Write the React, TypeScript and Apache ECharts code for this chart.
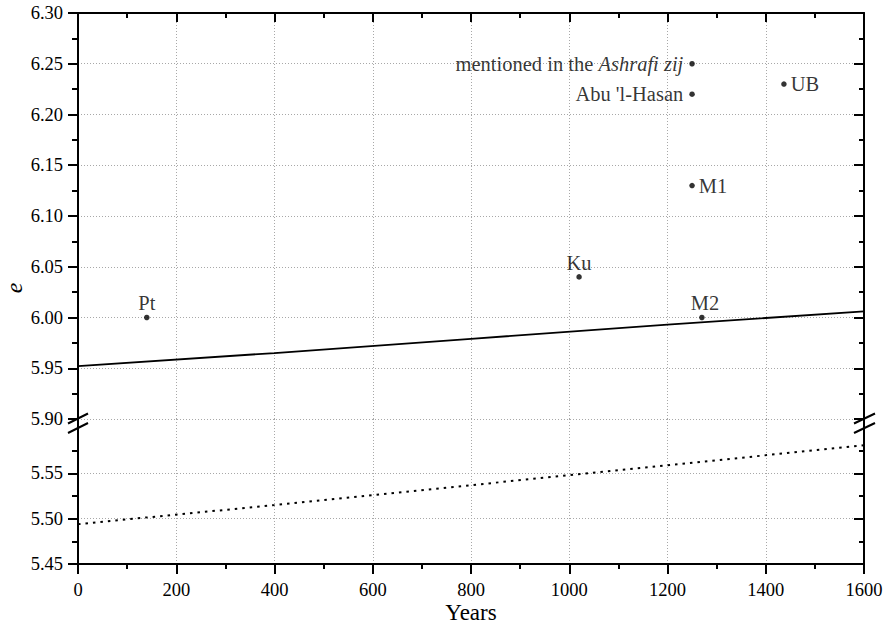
import React, { useEffect, useRef } from "react";
import * as echarts from "echarts";

// ---- data ----
const pointNames = ["Pt", "Ku", "M2", "M1", "Abu 'l-Hasan", "Ashrafi", "UB"];
const pointYears = [140, 1020, 1270, 1250, 1250, 1250, 1437];
const pointE = [6.0, 6.04, 6.0, 6.13, 6.22, 6.25, 6.23];

const curveYears = [0, 400, 800, 1200, 1600];
const solidE = [5.952, 5.965, 5.979, 5.993, 6.006];
const dottedE = [5.494, 5.515, 5.537, 5.559, 5.581];

const lowerMajorTicks = [5.45, 5.5, 5.55];
const lowerMinorTicks = [5.475, 5.525, 5.575];

const FONT = "Liberation Serif";

const labelStyles: Record<string, any> = {
  Pt: { position: "top", distance: 1 },
  Ku: { position: "top", distance: 1 },
  M2: { position: "top", distance: 1, offset: [3, 0] },
  M1: { position: "right", distance: 4 },
  "Abu 'l-Hasan": { position: "left", distance: 6 },
  Ashrafi: {
    position: "left",
    distance: 6,
    formatter: "{n|mentioned in the }{i|Ashrafi zij}",
  },
  UB: { position: "right", distance: 4 },
};

export default function App() {
  const ref = useRef<HTMLDivElement>(null);
  useEffect(() => {
    document.body.style.margin = "0";
    if (!ref.current) return;
    const chart = echarts.init(ref.current, null, { renderer: "svg" });
    const gridLine = { show: true, lineStyle: { color: "#a8a8a8", width: 1, type: [1, 2] } };
    const axisLine = { show: true, onZero: false, lineStyle: { color: "#000", width: 2 } };
    const tickLabel = {
      color: "#000",
      fontFamily: FONT,
      fontSize: 18.5,
    };
    const fmt = (v: number) => v.toFixed(2);
    const LS = 20.5;

    const scatterData = pointNames.map((n, i) => {
      const ls = labelStyles[n];
      return {
        name: n,
        value: [pointYears[i], pointE[i]],
        label: {
          show: true,
          position: ls.position,
          distance: ls.distance,
          offset: ls.offset,
          formatter: ls.formatter || n,
          color: "#000",
          fontFamily: FONT,
          fontSize: LS,
          rich: {
            n: { fontFamily: FONT, fontSize: LS, color: "#000" },
            i: { fontFamily: FONT, fontSize: LS, color: "#000", fontStyle: "italic" },
          },
        },
      };
    });

    const slash = (x1: number, y1: number, x2: number, y2: number) => ({
      type: "line",
      z: 100,
      shape: { x1, y1, x2, y2 },
      style: { stroke: "#000", lineWidth: 2 },
    });

    chart.setOption({
      animation: false,
      backgroundColor: "#fff",
      grid: [
        { left: 78, right: 22, top: 13, height: 406, outerBoundsMode: "none" },
        { left: 78, right: 22, top: 419, height: 145, outerBoundsMode: "none" },
      ],
      xAxis: [
        {
          gridIndex: 0, type: "value", min: 0, max: 1600, interval: 200, position: "bottom",
          axisLine: { show: false, onZero: false }, axisTick: { show: false }, axisLabel: { show: false },
          splitLine: gridLine,
        },
        {
          gridIndex: 0, type: "value", min: 0, max: 1600, interval: 200, position: "top",
          axisLine, axisTick: { show: true, inside: true, length: 9, lineStyle: { width: 2, color: "#000" } },
          minorTick: { show: true, splitNumber: 2, length: 5, lineStyle: { width: 2, color: "#000" } },
          axisLabel: { show: false }, splitLine: { show: false },
        },
        {
          gridIndex: 1, type: "value", min: 0, max: 1600, interval: 200, position: "bottom",
          axisLine, axisTick: { show: true, inside: false, length: 10, lineStyle: { width: 2, color: "#000" } },
          minorTick: { show: true, splitNumber: 2, length: 5, lineStyle: { width: 2, color: "#000" } },
          axisLabel: { ...tickLabel, margin: 16, formatter: (v: number) => String(v) },
          splitLine: gridLine,
          name: "Years", nameLocation: "middle", nameGap: 37,
          nameTextStyle: { color: "#000", fontFamily: FONT, fontSize: 23 },
        },
      ],
      yAxis: [
        {
          gridIndex: 0, type: "value", min: 5.9, max: 6.3, interval: 0.05, position: "left",
          axisLine, axisTick: { show: true, length: 10, lineStyle: { width: 2, color: "#000" } },
          minorTick: { show: true, splitNumber: 2, length: 6, lineStyle: { width: 2, color: "#000" } },
          axisLabel: { ...tickLabel, margin: 15, formatter: fmt },
          splitLine: gridLine,
        },
        {
          gridIndex: 0, type: "value", min: 5.9, max: 6.3, interval: 0.05, position: "right",
          axisLine, axisTick: { show: true, inside: true, length: 10, lineStyle: { width: 2, color: "#000" } },
          minorTick: { show: true, splitNumber: 2, length: 5, lineStyle: { width: 2, color: "#000" } },
          axisLabel: { show: false }, splitLine: { show: false },
        },
        {
          gridIndex: 1, type: "value", min: 5.45, max: 5.61, interval: 0.05, position: "left",
          axisLine,
          axisTick: { show: true, length: 10, customValues: lowerMajorTicks, lineStyle: { width: 2, color: "#000" } },
          axisLabel: { ...tickLabel, margin: 15, formatter: fmt, customValues: lowerMajorTicks },
          splitLine: gridLine,
        },
        {
          gridIndex: 1, type: "value", min: 5.45, max: 5.61, interval: 0.05, position: "left",
          axisLine: { show: false, onZero: false },
          axisTick: { show: true, length: 6, customValues: lowerMinorTicks, lineStyle: { width: 2, color: "#000" } },
          axisLabel: { show: false }, splitLine: { show: false },
        },
        {
          gridIndex: 1, type: "value", min: 5.45, max: 5.61, interval: 0.05, position: "right",
          axisLine,
          axisTick: { show: true, inside: true, length: 10, customValues: lowerMajorTicks, lineStyle: { width: 2, color: "#000" } },
          axisLabel: { show: false }, splitLine: { show: false },
        },
        {
          gridIndex: 1, type: "value", min: 5.45, max: 5.61, interval: 0.05, position: "right",
          axisLine: { show: false, onZero: false },
          axisTick: { show: true, inside: true, length: 5, customValues: lowerMinorTicks, lineStyle: { width: 2, color: "#000" } },
          axisLabel: { show: false }, splitLine: { show: false },
        },
      ],
      series: [
        {
          type: "line", xAxisIndex: 0, yAxisIndex: 0, showSymbol: false, symbol: "none",
          data: curveYears.map((x, i) => [x, solidE[i]]),
          lineStyle: { color: "#000", width: 1.8 },
          z: 3,
        },
        {
          type: "line", xAxisIndex: 2, yAxisIndex: 2, showSymbol: false, symbol: "none",
          data: curveYears.map((x, i) => [x, dottedE[i]]),
          lineStyle: { color: "#000", width: 2, type: [2.5, 5] },
          z: 3,
        },
        {
          type: "scatter", xAxisIndex: 0, yAxisIndex: 0, symbol: "circle", symbolSize: 5.5,
          itemStyle: { color: "#000" },
          data: scatterData,
          z: 4,
        },
      ],
      graphic: [
        slash(68, 423.5, 88, 413.5),
        slash(68, 433, 88, 423),
        slash(854, 423.5, 875, 413.5),
        slash(854, 433, 875, 423),
        {
          type: "text",
          x: 14,
          y: 288,
          rotation: Math.PI / 2,
          style: {
            text: "e",
            font: `italic 24px "${FONT}"`,
            fill: "#000",
            align: "center",
            verticalAlign: "middle",
          },
        },
      ],
    });
    return () => chart.dispose();
  }, []);
  return <div ref={ref} style={{ width: 886, height: 625 }} />;
}
